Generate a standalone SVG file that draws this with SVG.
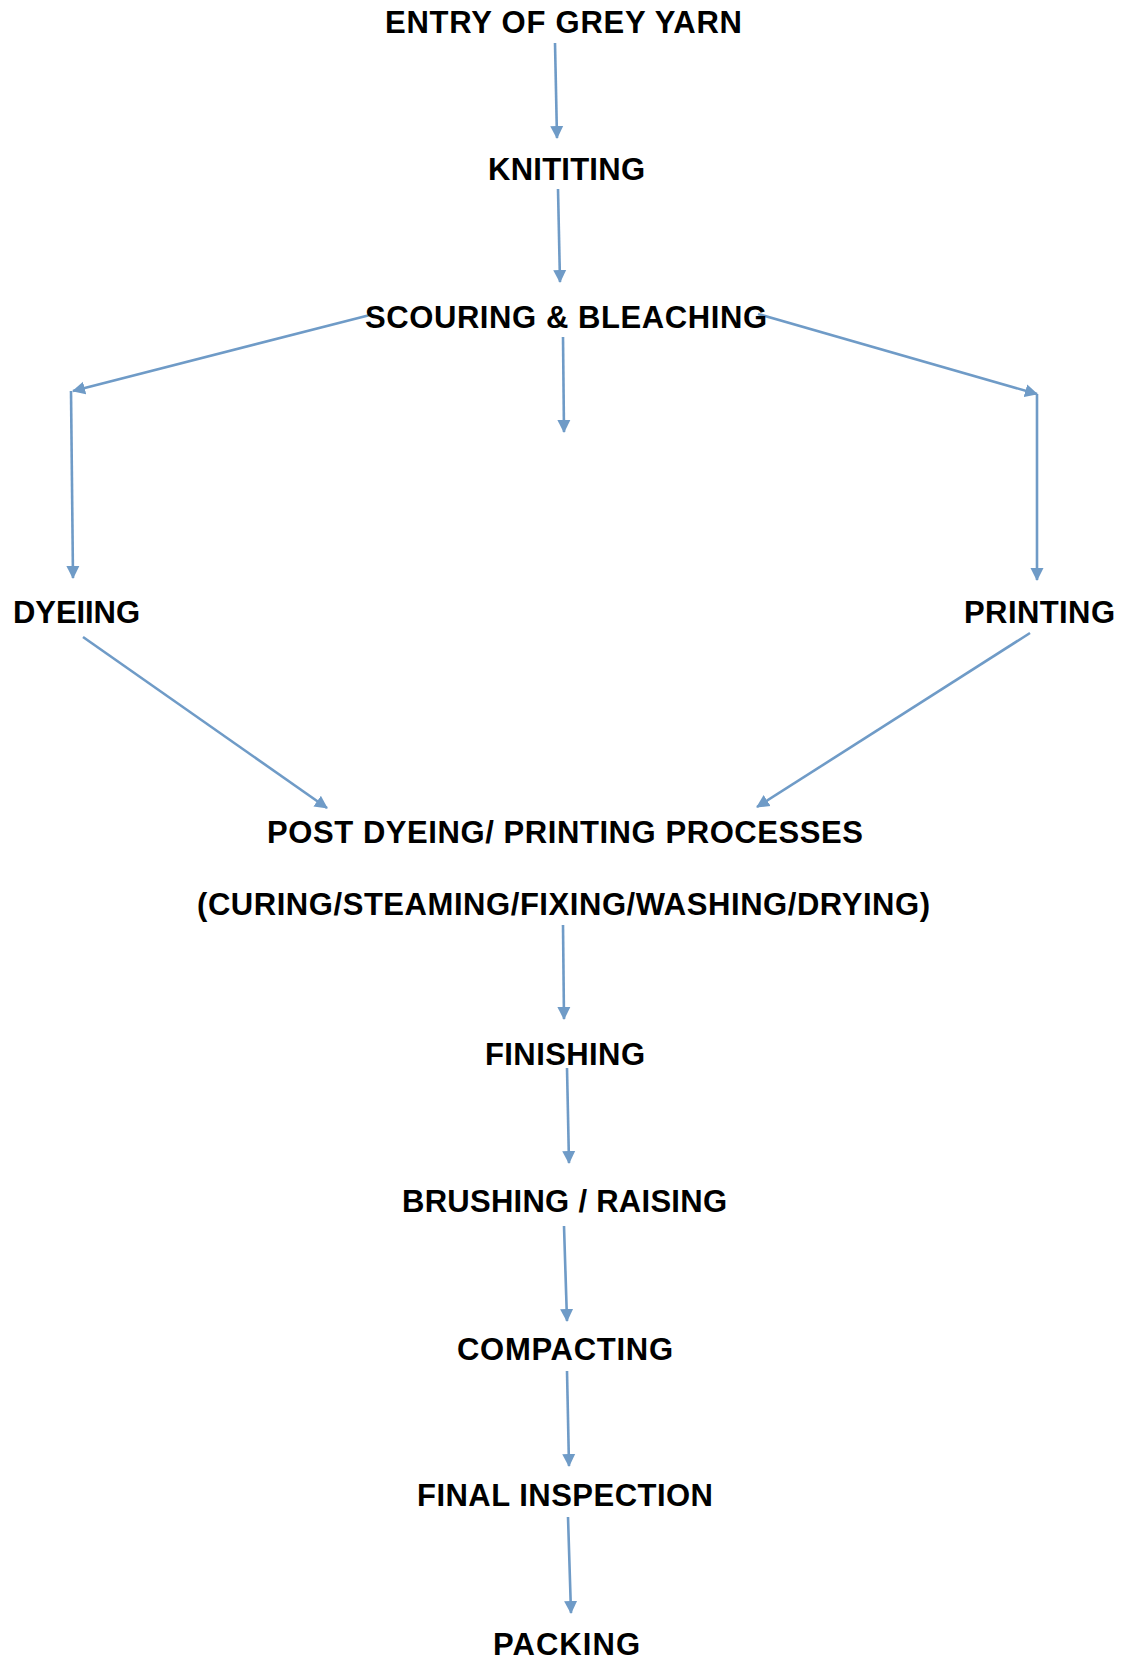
<svg xmlns="http://www.w3.org/2000/svg" width="1128" height="1664" viewBox="0 0 1128 1664">
<style>
.t{font-family:"Liberation Sans",Arial,sans-serif;font-weight:bold;font-size:31px;fill:#000}
.c{stroke:#6F9BC7;stroke-width:2.6;fill:none;marker-end:url(#ah)}
</style>
<defs>
<marker id="ah" markerUnits="userSpaceOnUse" markerWidth="14" markerHeight="14" refX="12" refY="6.5" orient="auto" viewBox="0 0 14 13">
<path d="M0,0 L13,6.5 L0,13 z" fill="#6F9BC7"/>
</marker>
</defs>
<rect width="1128" height="1664" fill="#fff"/>
<g id="connectors">
<line class="c" x1="555" y1="43" x2="557" y2="138"/>
<line class="c" x1="558" y1="189" x2="560" y2="282"/>
<line class="c" x1="563" y1="337" x2="564" y2="432"/>
<line class="c" x1="370" y1="315" x2="73" y2="391"/>
<line class="c" x1="71" y1="391" x2="73" y2="578"/>
<line class="c" x1="758" y1="314" x2="1037" y2="394"/>
<line class="c" x1="1037" y1="394" x2="1037" y2="580"/>
<line class="c" x1="83" y1="637" x2="327" y2="808"/>
<line class="c" x1="1030" y1="633" x2="757" y2="807"/>
<line class="c" x1="563" y1="925" x2="564" y2="1019"/>
<line class="c" x1="567" y1="1068" x2="569" y2="1163"/>
<line class="c" x1="564" y1="1226" x2="567" y2="1321"/>
<line class="c" x1="567" y1="1371" x2="569" y2="1466"/>
<line class="c" x1="568" y1="1517" x2="571" y2="1613"/>
</g>
<g id="entry"><text class="t" x="385" y="33" textLength="357" lengthAdjust="spacing">ENTRY OF GREY YARN</text></g>
<g id="knitting"><text class="t" x="488" y="180" textLength="157" lengthAdjust="spacing">KNITITING</text></g>
<g id="scouring"><text class="t" x="365" y="328" textLength="402" lengthAdjust="spacing">SCOURING &amp; BLEACHING</text></g>
<g id="dyeing"><text class="t" x="13" y="623" textLength="127" lengthAdjust="spacing">DYEIING</text></g>
<g id="printing"><text class="t" x="964" y="623" textLength="151" lengthAdjust="spacing">PRINTING</text></g>
<g id="post">
<text class="t" x="267" y="843" textLength="596" lengthAdjust="spacing">POST DYEING/ PRINTING PROCESSES</text>
<text class="t" x="197" y="915" textLength="733" lengthAdjust="spacing">(CURING/STEAMING/FIXING/WASHING/DRYING)</text>
</g>
<g id="finishing"><text class="t" x="485" y="1065" textLength="160" lengthAdjust="spacing">FINISHING</text></g>
<g id="brushing"><text class="t" x="402" y="1212" textLength="325" lengthAdjust="spacing">BRUSHING / RAISING</text></g>
<g id="compacting"><text class="t" x="457" y="1360" textLength="216" lengthAdjust="spacing">COMPACTING</text></g>
<g id="inspection"><text class="t" x="417" y="1506" textLength="296" lengthAdjust="spacing">FINAL INSPECTION</text></g>
<g id="packing"><text class="t" x="493" y="1655" textLength="147" lengthAdjust="spacing">PACKING</text></g>
</svg>
